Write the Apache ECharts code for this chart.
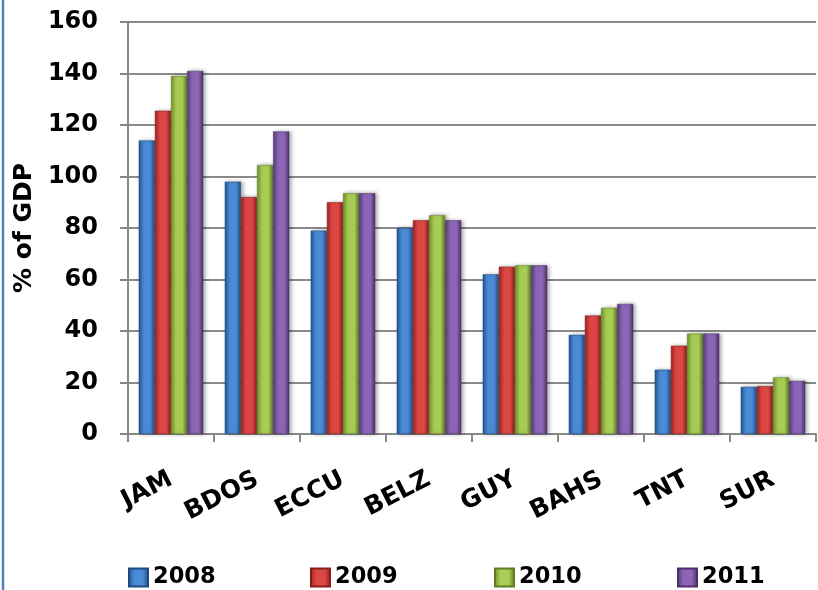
<!DOCTYPE html>
<html><head><meta charset="utf-8">
<script src="https://cdn.jsdelivr.net/npm/echarts@6/dist/echarts.min.js"></script>
<style>html,body{margin:0;padding:0;background:#fff}#c{width:818px;height:590px}</style>
</head><body><div id="c"></div>
<script>
const categories = ['JAM','BDOS','ECCU','BELZ','GUY','BAHS','TNT','SUR'];
const years = ['2008','2009','2010','2011'];
const v2008 = [114, 98, 79, 80, 62, 38.5, 25, 18.3];
const v2009 = [125.5, 92, 90, 83, 65, 46, 34.3, 18.6];
const v2010 = [139, 104.5, 93.5, 85, 65.5, 49, 39, 22];
const v2011 = [141, 117.5, 93.5, 83, 65.5, 50.5, 39, 20.6];
const yTicks = [0,20,40,60,80,100,120,140,160];

const colors = [
  ['#24548f','#4a8ad6','#1f4a80'],
  ['#9c2220','#dc4744','#8a1d1b'],
  ['#6f8f28','#a8cc55','#607c22'],
  ['#563878','#8c66b6','#4b3068']
];
function grad(c){
  return new echarts.graphic.LinearGradient(0,0,1,0,[
    {offset:0,color:c[0]},{offset:0.3,color:c[1]},{offset:0.7,color:c[1]},{offset:1,color:c[2]}
  ]);
}
const values = [v2008,v2009,v2010,v2011];
const FONT = '"DejaVu Sans", sans-serif';
const legendLeft = [128, 310, 494, 677];
const chart = echarts.init(document.getElementById('c'));
chart.setOption({
  animation:false,
  grid:{left:128,right:2,top:22,bottom:156,containLabel:false},
  legend: years.map((y,i)=>({
    left:legendLeft[i], top:566, padding:0, itemWidth:19, itemHeight:18, itemGap:0,
    icon:'rect',
    textStyle:{fontFamily:FONT,fontSize:22.5,fontWeight:'bold',color:'#000'},
    data:[y]
  })),
  xAxis:{
    type:'category', data:categories,
    axisLine:{lineStyle:{color:'#888',width:2}},
    axisTick:{show:true,length:8,lineStyle:{color:'#888',width:2}},
    axisLabel:{rotate:27,margin:44,fontFamily:FONT,fontSize:25,fontWeight:'bold',color:'#000'}
  },
  yAxis:{
    type:'value', min:0, max:160, interval:20,
    name:'% of GDP', nameLocation:'middle', nameGap:76, nameRotate:90,
    nameTextStyle:{fontFamily:FONT,fontSize:25,fontWeight:'bold',color:'#000'},
    axisLine:{show:true,lineStyle:{color:'#888',width:2}},
    axisTick:{show:true,length:8,lineStyle:{color:'#888',width:2}},
    splitLine:{lineStyle:{color:'#8a8a8a',width:2}},
    axisLabel:{margin:30,fontFamily:FONT,fontSize:24,fontWeight:'bold',color:'#000',
      formatter:v=>yTicks.includes(v)?String(v):''}
  },
  graphic:[{type:'line',shape:{x1:3,y1:0,x2:3,y2:590},style:{stroke:'#4f81bd',lineWidth:2.5}}],
  series: years.map((y,i)=>({
    name:y, type:'bar', data:values[i],
    barGap:'0%', barCategoryGap:'25%',
    itemStyle:{color:grad(colors[i]),borderColor:colors[i][2],borderWidth:0.5,
      shadowColor:'rgba(0,0,0,0.35)',shadowBlur:4,shadowOffsetX:2,shadowOffsetY:0}
  }))
});
</script></body></html>
